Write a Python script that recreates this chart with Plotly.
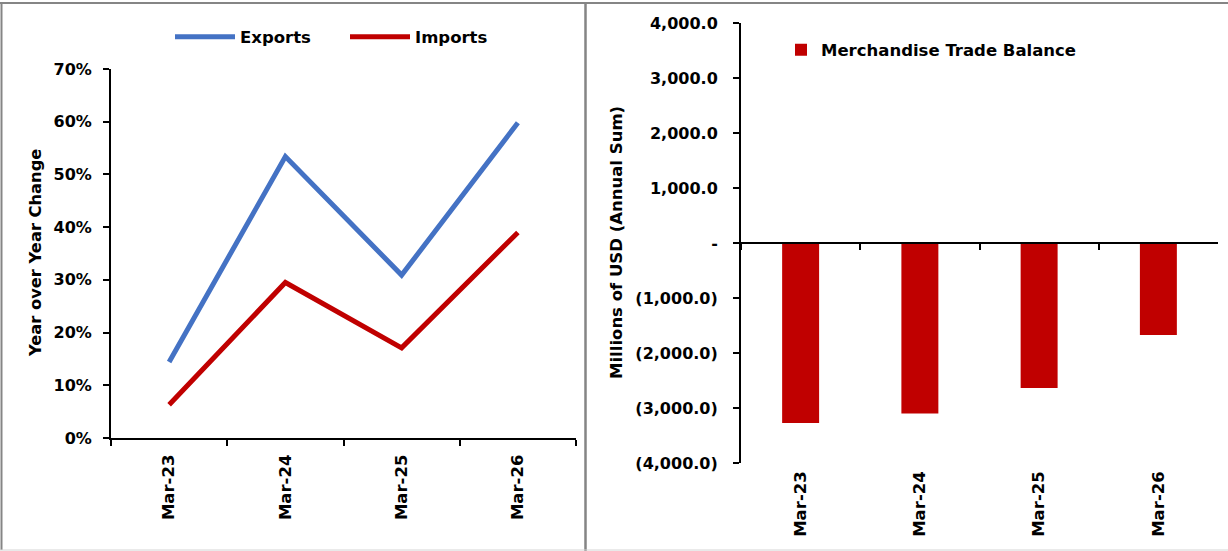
import plotly.graph_objects as go

W, H = 1228, 551

categories = ["Mar-23", "Mar-24", "Mar-25", "Mar-26"]
exports_yoy = [0.144, 0.534, 0.309, 0.598]
imports_yoy = [0.063, 0.295, 0.171, 0.390]
trade_balance = [-3273.0, -3100.0, -2636.0, -1673.0]

left_ticks = [0, 0.1, 0.2, 0.3, 0.4, 0.5, 0.6, 0.7]
right_tickvals = [-4000, -3000, -2000, -1000, 0, 1000, 2000, 3000, 4000]
right_ticktext = ["(4,000.0)", "(3,000.0)", "(2,000.0)", "(1,000.0)", "-",
                  "1,000.0", "2,000.0", "3,000.0", "4,000.0"]

FONT = "DejaVu Sans"
BLUE = "#4472C4"
RED = "#C00000"


def px_x(p):
    return p / W


def px_y(p):
    return 1 - p / H


def bold(size):
    return dict(family=FONT, size=size, color="black", weight="bold")


fig = go.Figure()

fig.add_trace(go.Scatter(x=categories, y=exports_yoy, mode="lines", name="Exports",
                         line=dict(color=BLUE, width=5), xaxis="x", yaxis="y",
                         legend="legend"))
fig.add_trace(go.Scatter(x=categories, y=imports_yoy, mode="lines", name="Imports",
                         line=dict(color=RED, width=5), xaxis="x", yaxis="y",
                         legend="legend"))
fig.add_trace(go.Bar(x=categories, y=trade_balance, name="Merchandise Trade Balance",
                     marker=dict(color=RED), width=0.31, xaxis="x2", yaxis="y2",
                     legend="legend2"))
# invisible helper trace so the zero-line axis knows the categories
fig.add_trace(go.Scatter(x=categories, y=[0] * len(categories), mode="markers",
                         marker=dict(opacity=0), showlegend=False, hoverinfo="skip",
                         xaxis="x3", yaxis="y2"))

ydom2 = [px_y(463), px_y(23)]
zero_pos = ydom2[0] + (0 - (-4000)) / 8000 * (ydom2[1] - ydom2[0])

border = "#858585"

fig.update_layout(
    template="none",
    width=W, height=H,
    margin=dict(l=0, r=0, t=0, b=0, pad=0, autoexpand=False),
    paper_bgcolor="white", plot_bgcolor="white",
    font=bold(16),
    xaxis=dict(domain=[px_x(111), px_x(576)], anchor="y", type="category",
               showline=True, linecolor="black", linewidth=2,
               ticks="outside", tickson="boundaries", ticklen=6, tickwidth=2,
               tickcolor="black", tickangle=-90, tickfont=bold(16.5),
               ticklabelstandoff=8,
               showgrid=False, zeroline=False, range=[-0.5, 3.5], automargin=False),
    yaxis=dict(domain=[px_y(438), px_y(69)], anchor="x", range=[0, 0.7],
               tickvals=left_ticks, tickformat=".0%",
               showline=True, linecolor="black", linewidth=2,
               ticks="outside", ticklen=6, tickwidth=2, tickcolor="black",
               tickfont=bold(16), ticklabelstandoff=8,
               showgrid=False, zeroline=False, automargin=False),
    xaxis2=dict(domain=[px_x(741), px_x(1218)], anchor="y2", type="category",
                showline=False, ticks="", tickangle=-90, tickfont=bold(16.5),
                ticklabelstandoff=4,
                showgrid=False, zeroline=False, range=[-0.5, 3.5], automargin=False),
    xaxis3=dict(overlaying="x2", anchor="free", position=zero_pos, type="category",
                showline=True, linecolor="black", linewidth=2,
                ticks="outside", tickson="boundaries", ticklen=6, tickwidth=2,
                tickcolor="black", showticklabels=False, showgrid=False,
                zeroline=False, range=[-0.5, 3.5], automargin=False),
    yaxis2=dict(domain=ydom2, anchor="x2", range=[-4000, 4000],
                tickvals=right_tickvals, ticktext=right_ticktext,
                showline=True, linecolor="black", linewidth=2,
                ticks="outside", ticklen=6, tickwidth=2, tickcolor="black",
                tickfont=bold(16), ticklabelstandoff=12,
                showgrid=False, zeroline=False, automargin=False),
    legend=dict(orientation="h", x=px_x(170), y=px_y(37), xanchor="left", yanchor="middle",
                font=bold(16.5), bgcolor="rgba(0,0,0,0)", itemwidth=60,
                entrywidth=100),
    legend2=dict(orientation="h", x=px_x(781), y=px_y(50), xanchor="left", yanchor="middle",
                 font=bold(16.5), bgcolor="rgba(0,0,0,0)"),
    showlegend=True,
    annotations=[
        dict(text="Year over Year Change", x=px_x(35), y=px_y(253), xref="paper", yref="paper",
             textangle=-90, showarrow=False, xanchor="center", yanchor="middle",
             font=bold(16.3)),
        dict(text="Millions of USD (Annual Sum)", x=px_x(617), y=px_y(243), xref="paper",
             yref="paper", textangle=-90, showarrow=False, xanchor="center", yanchor="middle",
             font=bold(16.5)),
    ],
    shapes=[
        dict(type="line", xref="paper", yref="paper", x0=0, x1=1,
             y0=px_y(3), y1=px_y(3), line=dict(color=border, width=2)),
        dict(type="line", xref="paper", yref="paper", x0=px_x(1.5), x1=px_x(1.5),
             y0=px_y(550), y1=px_y(3), line=dict(color=border, width=2)),
        dict(type="line", xref="paper", yref="paper", x0=px_x(585.5), x1=px_x(585.5),
             y0=px_y(551), y1=px_y(3), line=dict(color=border, width=2.5)),
        dict(type="line", xref="paper", yref="paper", x0=0, x1=1,
             y0=px_y(550), y1=px_y(550), line=dict(color="#d4d4d4", width=1)),
    ],
)

fig.write_html("out.html")
